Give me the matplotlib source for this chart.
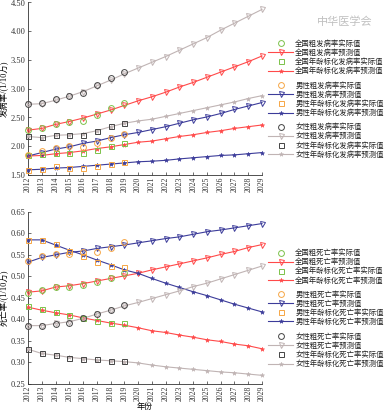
import matplotlib
matplotlib.use("Agg")
import matplotlib.pyplot as plt

plt.rcParams['font.family'] = ['Liberation Serif', 'Noto Sans CJK SC', 'DejaVu Sans']

years = list(range(2012, 2030))
years_act = list(range(2012, 2020))

# ---------------- incidence (top) ----------------
inc_nat_crude_act = [2.28, 2.32, 2.39, 2.43, 2.44, 2.55, 2.66, 2.75]
inc_nat_crude_pred = [2.28, 2.31, 2.38, 2.43, 2.49, 2.56, 2.63, 2.71, 2.79, 2.86, 2.94, 3.03,
                      3.11, 3.20, 3.29, 3.38, 3.47, 3.57]
inc_nat_asr_act = [1.84, 1.86, 1.88, 1.88, 1.88, 1.94, 2.01, 2.05]
inc_nat_asr_pred = [1.83, 1.84, 1.87, 1.89, 1.92, 1.96, 1.99, 2.03, 2.07, 2.09, 2.13, 2.17,
                    2.20, 2.24, 2.27, 2.31, 2.34, 2.37]
inc_male_crude_act = [1.84, 1.91, 1.97, 2.00, 1.98, 2.05, 2.15, 2.22]
inc_male_crude_pred = [1.83, 1.89, 1.95, 1.99, 2.05, 2.09, 2.15, 2.20, 2.24, 2.29, 2.34, 2.40,
                       2.46, 2.51, 2.57, 2.64, 2.70, 2.76]
inc_male_asr_act = [1.59, 1.61, 1.65, 1.63, 1.62, 1.65, 1.69, 1.73]
inc_male_asr_pred = [1.59, 1.60, 1.62, 1.63, 1.65, 1.67, 1.69, 1.71, 1.73, 1.74, 1.755, 1.78,
                     1.80, 1.82, 1.84, 1.85, 1.87, 1.89]
inc_fem_crude_act = [2.74, 2.75, 2.83, 2.87, 2.92, 3.06, 3.19, 3.30]
inc_fem_crude_pred = [2.73, 2.74, 2.80, 2.87, 2.95, 3.05, 3.15, 3.26, 3.36, 3.46, 3.56, 3.67,
                      3.78, 3.89, 4.02, 4.14, 4.26, 4.38]
inc_fem_asr_act = [2.17, 2.16, 2.19, 2.19, 2.20, 2.27, 2.35, 2.40]
inc_fem_asr_pred = [2.17, 2.15, 2.19, 2.20, 2.22, 2.27, 2.34, 2.40, 2.44, 2.47, 2.52, 2.57,
                    2.62, 2.67, 2.72, 2.77, 2.83, 2.88]

# ---------------- mortality (bottom) ----------------
mor_nat_crude_act = [0.462, 0.469, 0.474, 0.474, 0.480, 0.486, 0.496, 0.508]
mor_nat_crude_pred = [0.463, 0.466, 0.475, 0.478, 0.483, 0.489, 0.495, 0.501, 0.507, 0.515,
                      0.522, 0.529, 0.536, 0.543, 0.551, 0.558, 0.567, 0.574]
mor_nat_asr_act = [0.430, 0.424, 0.417, 0.409, 0.402, 0.395, 0.391, 0.390]
mor_nat_asr_pred = [0.428, 0.421, 0.415, 0.410, 0.403, 0.397, 0.391, 0.386, 0.380, 0.373,
                    0.369, 0.363, 0.358, 0.352, 0.348, 0.342, 0.338, 0.331]
mor_male_crude_act = [0.535, 0.548, 0.553, 0.553, 0.556, 0.557, 0.567, 0.580]
mor_male_crude_pred = [0.533, 0.544, 0.550, 0.556, 0.559, 0.565, 0.569, 0.573, 0.578, 0.583,
                       0.588, 0.592, 0.598, 0.604, 0.608, 0.613, 0.618, 0.623]
mor_male_asr_act = [0.585, 0.585, 0.576, 0.558, 0.548, 0.534, 0.525, 0.522]
mor_male_asr_pred = [0.585, 0.585, 0.573, 0.561, 0.550, 0.538, 0.527, 0.515, 0.507, 0.495,
                     0.484, 0.474, 0.464, 0.455, 0.445, 0.435, 0.426, 0.417]
mor_fem_crude_act = [0.385, 0.385, 0.389, 0.392, 0.403, 0.413, 0.422, 0.433]
mor_fem_crude_pred = [0.385, 0.385, 0.390, 0.394, 0.402, 0.412, 0.421, 0.431, 0.439, 0.448,
                      0.457, 0.466, 0.476, 0.484, 0.494, 0.504, 0.514, 0.524]
mor_fem_asr_act = [0.331, 0.322, 0.316, 0.310, 0.308, 0.306, 0.303, 0.302]
mor_fem_asr_pred = [0.330, 0.320, 0.316, 0.311, 0.308, 0.305, 0.303, 0.301, 0.298, 0.293,
                    0.289, 0.286, 0.283, 0.280, 0.277, 0.275, 0.272, 0.269]

inc_labels = ['全国粗发病率实际值', '全国粗发病率预测值', '全国年龄标化发病率实际值', '全国年龄标化发病率预测值',
              '男性粗发病率实际值', '男性粗发病率预测值', '男性年龄标化发病率实际值', '男性年龄标化发病率预测值',
              '女性粗发病率实际值', '女性粗发病率预测值', '女性年龄标化发病率实际值', '女性年龄标化发病率预测值']
mor_labels = ['全国粗死亡率实际值', '全国粗死亡率预测值', '全国年龄标化死亡率实际值', '全国年龄标化死亡率预测值',
              '男性粗死亡率实际值', '男性粗死亡率预测值', '男性年龄标化死亡率实际值', '男性年龄标化死亡率预测值',
              '女性粗死亡率实际值', '女性粗死亡率预测值', '女性年龄标化死亡率实际值', '女性年龄标化死亡率预测值']

RED = '#ff4a4a'
GREEN = '#7cc24a'
BLUE = '#3c3c9a'
ORANGE = '#f6a645'
GRAY = '#c0b4b4'
BLACK = '#444444'

W, H = 390, 411
fig = plt.figure(figsize=(W / 100, H / 100), dpi=100)

def axrect(l, t, r, b):
    return [l / W, 1 - b / H, (r - l) / W, (b - t) / H]

ax1 = fig.add_axes(axrect(28, 2.5, 262, 175))
ax2 = fig.add_axes(axrect(28, 212, 262, 383.5))

def draw(ax, data):
    groups = [(GREEN, RED), (ORANGE, BLUE), (BLACK, GRAY)]
    handles = []
    for (ca, cl), (ca_c, cp_c, ca_a, cp_a) in zip(groups, data):
        h1, = ax.plot(years_act, ca_c, ls='none', marker='o', ms=4.2, mfc='none', mec=ca, mew=0.7, clip_on=False, zorder=4)
        h2, = ax.plot(years, cp_c, color=cl, lw=0.8, marker='v', ms=3.6, mfc='none', mec=cl, mew=0.7, clip_on=False, zorder=3)
        h3, = ax.plot(years_act, ca_a, ls='none', marker='s', ms=3.6, mfc='none', mec=ca, mew=0.7, clip_on=False, zorder=4)
        h4, = ax.plot(years, cp_a, color=cl, lw=0.8, marker='*', ms=3.2, mfc=cl, mec=cl, mew=0.4, clip_on=False, zorder=3)
        handles.append([h1, h2, h3, h4])
    ax.set_xlim(2012, 2029)
    ax.set_xticks(years)
    ax.set_xticklabels([str(y) for y in years], rotation=90)
    for s in ['top', 'right']:
        ax.spines[s].set_visible(False)
    for s in ['left', 'bottom']:
        ax.spines[s].set_linewidth(0.6)
        ax.spines[s].set_color('#333333')
    ax.tick_params(direction='in', length=2, width=0.5, labelsize=6, pad=2, colors='#333333')
    ax.tick_params(axis='x', labelsize=5.6, pad=1.5)
    return handles

h_top = draw(ax1, [(inc_nat_crude_act, inc_nat_crude_pred, inc_nat_asr_act, inc_nat_asr_pred),
                   (inc_male_crude_act, inc_male_crude_pred, inc_male_asr_act, inc_male_asr_pred),
                   (inc_fem_crude_act, inc_fem_crude_pred, inc_fem_asr_act, inc_fem_asr_pred)])
ax1.set_ylim(1.5, 4.5)
ax1.set_yticks([1.5, 2.0, 2.5, 3.0, 3.5, 4.0, 4.5])
ax1.set_yticklabels(['1.50', '2.00', '2.50', '3.00', '3.50', '4.00', '4.50'])
ax1.set_ylabel('发病率/(1/10万)', fontsize=6, labelpad=2)

h_bot = draw(ax2, [(mor_nat_crude_act, mor_nat_crude_pred, mor_nat_asr_act, mor_nat_asr_pred),
                   (mor_male_crude_act, mor_male_crude_pred, mor_male_asr_act, mor_male_asr_pred),
                   (mor_fem_crude_act, mor_fem_crude_pred, mor_fem_asr_act, mor_fem_asr_pred)])
ax2.set_ylim(0.25, 0.65)
yt = [0.25, 0.30, 0.35, 0.40, 0.45, 0.50, 0.55, 0.60, 0.65]
ax2.set_yticks(yt)
ax2.set_yticklabels(['%.2f' % v for v in yt])
ax2.set_ylabel('死亡率/(1/10万)', fontsize=6, labelpad=2)
ax2.set_xlabel('年份', fontsize=5.8)
ax2.xaxis.set_label_coords(0.5, -(406.5 - 383.5) / (383.5 - 212))
ax2.xaxis.label.set_va('center')

def legends(handles, labels, tops):
    for i, (hs, top) in enumerate(zip(handles, tops)):
        leg = fig.legend(hs, labels[4 * i:4 * i + 4], loc='upper left',
                         bbox_to_anchor=(268 / W, 1 - top / H), frameon=False,
                         fontsize=5.3, handlelength=3.4, handletextpad=0.3,
                         labelspacing=0.2, borderpad=0, borderaxespad=0)
        for t in leg.get_texts():
            t.set_color('#222222')

legends(h_top, inc_labels, [39, 81, 122.5])
legends(h_bot, mor_labels, [248.5, 290, 332])

fig.text(345 / W, 1 - 22 / H, '中华医学会', fontsize=8, color='#c0c0c0', ha='center', va='center')

fig.savefig('out.png', dpi=100)
